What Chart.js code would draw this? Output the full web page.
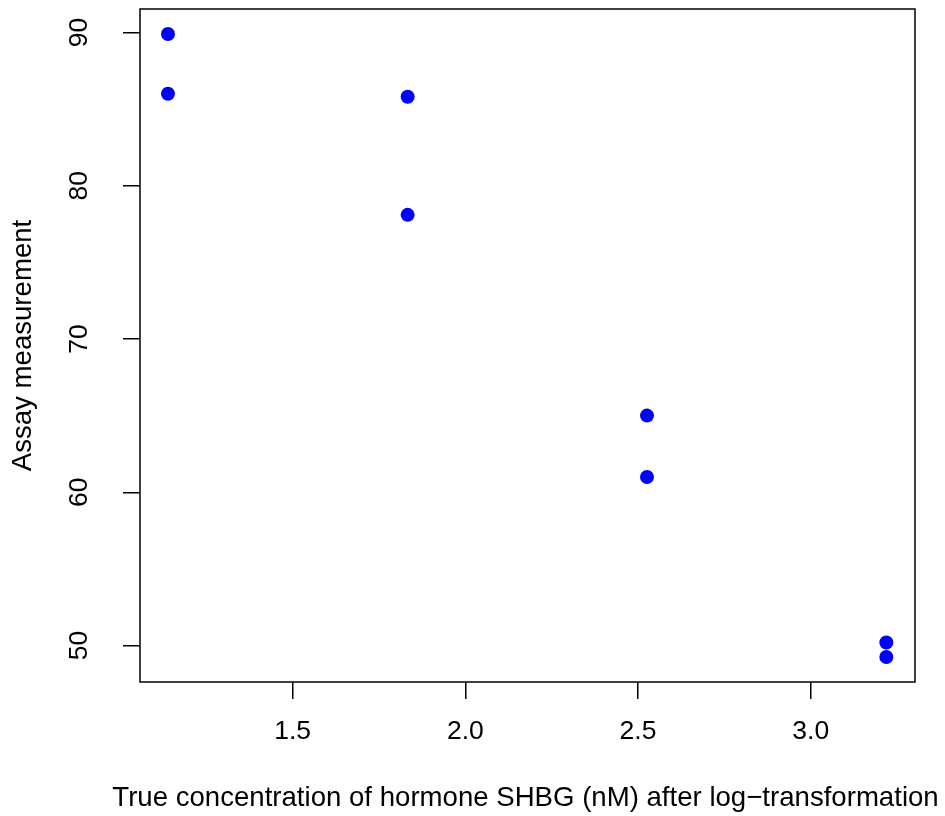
<!DOCTYPE html>
<html>
<head>
<meta charset="utf-8">
<script src="https://cdn.jsdelivr.net/npm/chart.js@4/dist/chart.umd.min.js"></script>
<style>
  html, body { margin: 0; padding: 0; background: #fff; }
  #wrap { width: 945px; height: 816px; }
</style>
</head>
<body>
<div id="wrap"><canvas id="plot" width="945" height="816"></canvas></div>
<script>
// log-transformed SHBG concentrations and assay readings (two replicates each)
const logConc = [1.139, 1.139, 1.833, 1.833, 2.526, 2.526, 3.219, 3.219];
const assay = [89.9, 86.0, 85.8, 78.1, 65.0, 61.0, 50.2, 49.25];
const xTicks = [1.5, 2.0, 2.5, 3.0];
const yTicks = [50, 60, 70, 80, 90];
const xTitle = 'True concentration of hormone SHBG (nM) after log\u2212transformation';

const FONT = 'Liberation Sans, Arial, Helvetica, sans-serif';
const TICK_SIZE = 26.5;

// R-style box around the plot region, rotated y tick labels, x title
// (x title drawn here because chart.js squeezes it to the scale width)
const rBox = {
    id: 'rBox',
    afterDraw(chart) {
        const { ctx, chartArea: a, scales } = chart;
        ctx.save();
        ctx.strokeStyle = '#000';
        ctx.lineWidth = 1.5;
        ctx.strokeRect(a.left, a.top, a.right - a.left, a.bottom - a.top);

        ctx.fillStyle = '#000';
        ctx.font = TICK_SIZE + 'px ' + FONT;
        ctx.textAlign = 'center';
        ctx.textBaseline = 'middle';
        scales.y.ticks.forEach(t => {
            const py = scales.y.getPixelForValue(t.value);
            ctx.save();
            ctx.translate(80, py);
            ctx.rotate(-Math.PI / 2);
            ctx.fillText(String(t.value), 0, 0);
            ctx.restore();
        });

        ctx.font = '27.6px ' + FONT;
        ctx.fillText(xTitle, (a.left + a.right) / 2 - 2, 798);
        ctx.restore();
    }
};

const data = logConc.map((x, i) => ({ x: x, y: assay[i] }));

new Chart(document.getElementById('plot'), {
    type: 'scatter',
    data: {
        datasets: [{
            data: data,
            backgroundColor: '#0000ff',
            borderColor: '#0000ff',
            pointRadius: 7,
            pointHoverRadius: 7,
            borderWidth: 0
        }]
    },
    options: {
        responsive: false,
        animation: false,
        events: [],
        layout: { padding: { top: 9, right: 30, left: 0, bottom: 0 } },
        plugins: { legend: { display: false }, tooltip: { enabled: false } },
        scales: {
            x: {
                type: 'linear',
                min: 1.058,
                max: 3.302,
                afterBuildTicks(scale) { scale.ticks = xTicks.map(v => ({ value: v })); },
                afterFit(scale) { scale.height = 134; },
                grid: { drawOnChartArea: false, drawTicks: true, tickLength: 17, color: '#000', lineWidth: 1.5 },
                border: { display: false },
                ticks: {
                    color: '#000',
                    font: { family: FONT, size: TICK_SIZE },
                    padding: 17,
                    maxRotation: 0,
                    callback: v => v.toFixed(1)
                },
                title: { display: false }
            },
            y: {
                type: 'linear',
                min: 47.62,
                max: 91.53,
                afterBuildTicks(scale) { scale.ticks = yTicks.map(v => ({ value: v })); },
                afterFit(scale) { scale.width = 140; },
                grid: { drawOnChartArea: false, drawTicks: true, tickLength: 17, color: '#000', lineWidth: 1.5 },
                border: { display: false },
                ticks: { display: false },
                title: {
                    display: true,
                    text: 'Assay measurement',
                    color: '#000',
                    font: { family: FONT, size: 27.6 },
                    padding: { top: 6.5, bottom: 0 }
                }
            }
        }
    },
    plugins: [rBox]
});
</script>
</body>
</html>
